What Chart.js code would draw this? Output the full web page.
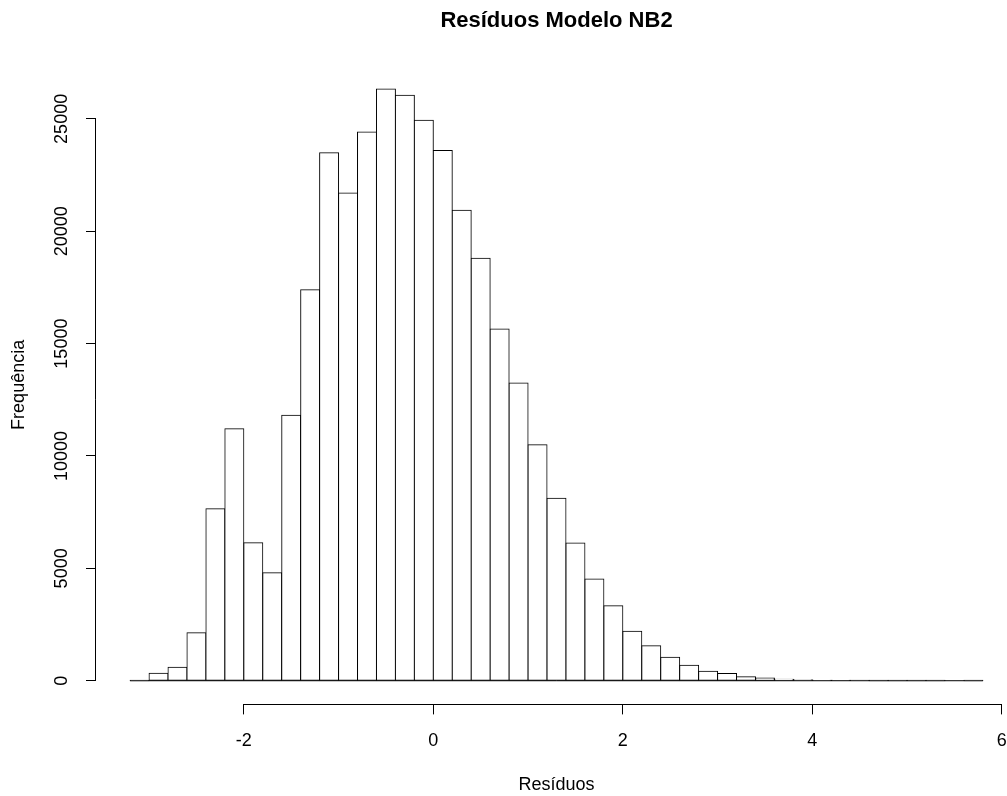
<!DOCTYPE html>
<html>
<head>
<meta charset="utf-8">
<script src="https://cdn.jsdelivr.net/npm/chart.js@4.4.1/dist/chart.umd.min.js"></script>
<style>
  html, body { margin: 0; padding: 0; overflow: hidden; background: #ffffff; }
  #wrap { width: 1024px; height: 796px; position: relative; }
</style>
</head>
<body>
<div id="wrap"><canvas id="c"></canvas></div>
<script>
// ---- data ----
const breaks = [-3.2, -3.0, -2.8, -2.6, -2.4, -2.2, -2.0, -1.8, -1.6, -1.4, -1.2, -1.0, -0.8, -0.6, -0.4, -0.2,
                0.0, 0.2, 0.4, 0.6, 0.8, 1.0, 1.2, 1.4, 1.6, 1.8, 2.0, 2.2, 2.4, 2.6, 2.8, 3.0, 3.2, 3.4, 3.6, 3.8,
                4.0, 4.2, 4.4, 4.6, 4.8, 5.0, 5.2, 5.4, 5.6, 5.8];
const counts = [2, 330, 600, 2140, 7650, 11210, 6140, 4810, 11810, 17400, 23490, 21700, 24420, 26330, 26050, 24940,
                23590, 20930, 18800, 15650, 13250, 10500, 8120, 6130, 4530, 3340, 2200, 1560, 1050, 690, 420, 320, 180, 120, 70, 45,
                20, 10, 6, 3, 2, 1, 1, 0, 1];
const xTicks = [-2, 0, 2, 4, 6];
const yTicks = [0, 5000, 10000, 15000, 20000, 25000];
const titleText = 'Resíduos Modelo NB2';
const xLabel = 'Resíduos';
const yLabel = 'Frequência';

// R-style axis ranges (4% extension of the data range)
const xSpan = breaks[breaks.length - 1] - breaks[0];
const xMin = breaks[0] - 0.04 * xSpan;
const xMax = breaks[breaks.length - 1] + 0.04 * xSpan;
const maxCount = Math.max(...counts);
const yMin = -0.04 * maxCount;
const yMax = maxCount * 1.04;

const barData = counts.map((c, i) => ({ x: (breaks[i] + breaks[i + 1]) / 2, y: c }));
const baseLine = [{ x: breaks[0], y: 0 }, { x: breaks[breaks.length - 1], y: 0 }];

const FONT = "'Liberation Sans', Arial, Helvetica, sans-serif";
Chart.defaults.font.family = FONT;
Chart.defaults.color = '#000000';

const rAxes = {
  id: 'rAxes',
  afterDraw(chart) {
    const { ctx, chartArea: a, scales: { x, y } } = chart;
    ctx.save();
    ctx.strokeStyle = '#000000';
    ctx.lineWidth = 1;
    ctx.beginPath();
    const yb = Math.round(a.bottom) + 0.5;
    ctx.moveTo(x.getPixelForValue(xTicks[0]), yb);
    ctx.lineTo(x.getPixelForValue(xTicks[xTicks.length - 1]), yb);
    const xl = Math.round(a.left) - 0.5;
    ctx.moveTo(xl, y.getPixelForValue(yTicks[0]));
    ctx.lineTo(xl, y.getPixelForValue(yTicks[yTicks.length - 1]));
    ctx.stroke();
    ctx.restore();
  }
};

new Chart(document.getElementById('c'), {
  type: 'bar',
  data: {
    datasets: [
      {
        type: 'line',
        data: baseLine,
        borderColor: '#000000',
        borderWidth: 1,
        pointRadius: 0,
        fill: false,
        order: 0
      },
      {
        data: barData,
        backgroundColor: '#ffffff',
        borderColor: '#000000',
        borderSkipped: false,
        borderWidth: 1,
        inflateAmount: 0.5,
        barPercentage: 1,
        categoryPercentage: 1,
        order: 1
      }
    ]
  },
  options: {
    responsive: true,
    maintainAspectRatio: false,
    animation: false,
    devicePixelRatio: 1,
    layout: { padding: { left: 0, right: 7, top: 0, bottom: 0 } },
    plugins: {
      legend: { display: false },
      tooltip: { enabled: false },
      title: {
        display: true,
        text: titleText,
        fullSize: false,
        color: '#000000',
        font: { family: FONT, size: 22, weight: 'bold' },
        padding: { top: 7.7, bottom: 31.2 }
      }
    },
    scales: {
      x: {
        type: 'linear',
        position: 'bottom',
        min: xMin,
        max: xMax,
        offset: false,
        afterBuildTicks: (s) => { s.ticks = xTicks.map(v => ({ value: v })); },
        afterFit: (s) => { s.height = 91.6; },
        grid: { offset: false, drawOnChartArea: false, drawTicks: true, tickLength: 10, color: '#000000', lineWidth: 1 },
        border: { display: false },
        ticks: { autoSkip: false, maxRotation: 0, minRotation: 0, padding: 15.5, color: '#000000',
                 font: { family: FONT, size: 18 }, callback: (v) => String(v) },
        title: { display: true, text: xLabel, color: '#000000', font: { family: FONT, size: 18 },
                 padding: { top: 0, bottom: 0 } }
      },
      y: {
        type: 'linear',
        position: 'left',
        min: yMin,
        max: yMax,
        afterBuildTicks: (s) => { s.ticks = yTicks.map(v => ({ value: v })); },
        afterFit: (s) => { s.width = 96; },
        grid: { offset: false, drawOnChartArea: false, drawTicks: true, tickLength: 10, color: '#000000', lineWidth: 1 },
        border: { display: false },
        ticks: { autoSkip: false, minRotation: 90, maxRotation: 90, crossAlign: 'center', padding: -1.5,
                 color: '#000000', font: { family: FONT, size: 18 }, callback: (v) => String(v) },
        title: { display: true, text: yLabel, color: '#000000', font: { family: FONT, size: 18 },
                 padding: { top: 8, bottom: 0 } }
      }
    }
  },
  plugins: [rAxes]
});
</script>
</body>
</html>
